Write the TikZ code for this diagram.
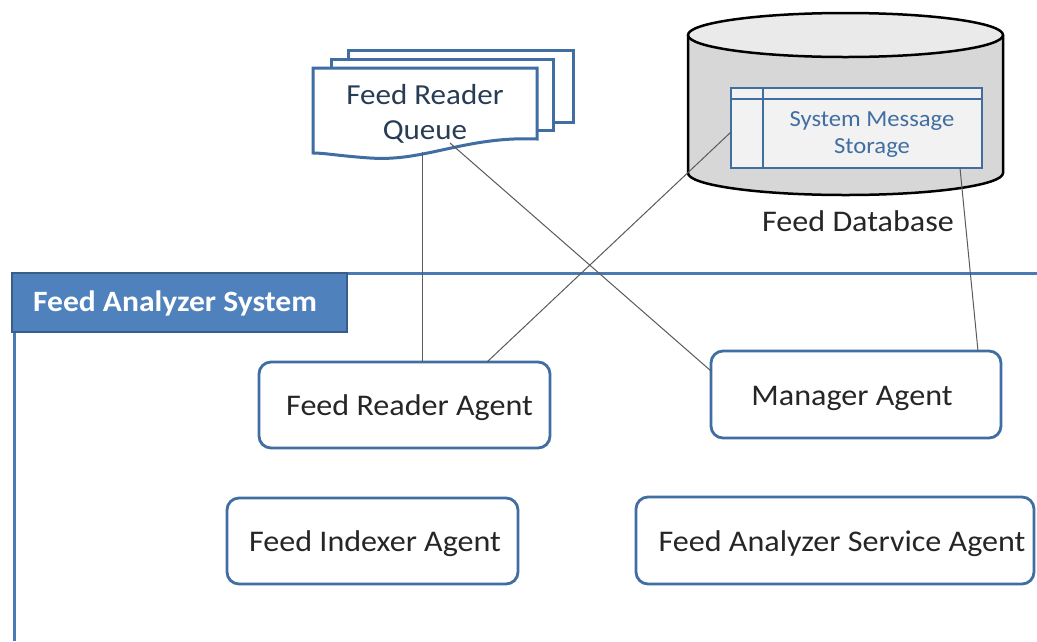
\documentclass[tikz,border=0pt]{standalone}
\usepackage{fontspec}
\setmainfont{Carlito}[FakeStretch=1.07]
\definecolor{boxblue}{RGB}{65,110,162}
\definecolor{tabblue}{RGB}{79,129,189}
\definecolor{tabedge}{RGB}{56,93,138}
\definecolor{framblue}{RGB}{74,122,181}
\definecolor{inkgray}{RGB}{38,38,38}
\definecolor{qtext}{RGB}{40,60,85}
\definecolor{cylbody}{RGB}{215,215,215}
\definecolor{cyltop}{RGB}{234,234,234}
\definecolor{tablefill}{RGB}{242,242,242}
\definecolor{linkgray}{RGB}{90,90,90}
\tikzset{
  agent/.style={draw=boxblue, line width=2.8pt, rounded corners=12pt, fill=white,
    text=inkgray, font=\fontsize{30}{34}\selectfont, inner sep=0pt,
    text height=27pt, text depth=6pt},
  page/.style={draw=boxblue, line width=3pt, fill=white},
  link/.style={draw=linkgray, line width=1pt},
  cyl/.style={draw=black, line width=2.5pt},
}
\begin{document}
\begin{tikzpicture}[x=1pt,y=-1pt]
\useasboundingbox (0,0) rectangle (1037,641);
\fill[white] (0,0) rectangle (1037,641);

% ---- queue (stacked document shape) ----
\draw[page] (348,50) rectangle (573,122);
\draw[page] (331,59) rectangle (553,130);
\draw[page] (313,68) -- (537,68) -- (537,139)
  .. controls (465,136) and (425,162) .. (370,158)
  .. controls (340,156) and (325,153) .. (313,153) -- cycle;
\node[text=qtext, font=\fontsize{29}{35}\selectfont, align=center] (queue) at (425,114)
  {Feed Reader\\Queue};
\coordinate (qA) at (422,152);
\coordinate (qB) at (450,143);

% ---- database cylinder ----
\draw[cyl, fill=cylbody] (688,35) -- (688,173) arc[start angle=180, end angle=0, x radius=157.5, y radius=22] -- (1003,35);
\draw[cyl, fill=cyltop] (845.5,35) ellipse[x radius=157.5, y radius=22];
\node[draw=boxblue, line width=2.5pt, fill=tablefill, minimum width=251pt, minimum height=80pt, inner sep=0pt]
  (sms) at (856.5,128) {};
\draw[draw=boxblue, line width=2.5pt] (731,99) -- (982,99);
\draw[draw=boxblue, line width=2.5pt] (763,88) -- (763,168);
\node[text=boxblue, font=\fontsize{23}{27}\selectfont, align=center] (smstext) at (872,135)
  {System Message\\Storage};
\node[text=inkgray, font=\fontsize{30}{34}\selectfont] (dbl) at (858,221) {Feed Database};
\coordinate (smsL) at (731,132);
\coordinate (smsB) at (960,168);

% ---- system frame ----
\draw[draw=framblue, line width=3pt] (14,641) -- (14,273) -- (1037,273);
\node[draw=tabedge, line width=2pt, fill=tabblue, minimum width=335pt, minimum height=59pt,
  inner sep=0pt, text=white, font=\bfseries\fontsize{29.5}{34}\selectfont,
  text height=24pt, text depth=6pt] (tab) at (179.5,302.5)
  {\hspace*{-9pt}Feed Analyzer System};

% ---- agents ----
\node[agent, minimum width=291pt, minimum height=86pt] (fra) at (404.5,405) {\hspace*{10pt}Feed Reader Agent};
\node[agent, minimum width=290pt, minimum height=87pt] (ma) at (856,394.5) {\hspace*{-8pt}Manager Agent};
\node[agent, minimum width=291pt, minimum height=86pt] (fia) at (372.5,541) {\hspace*{5pt}Feed Indexer Agent};
\node[agent, minimum width=398pt, minimum height=87pt] (fasa) at (835,540.5) {\hspace*{14pt}Feed Analyzer Service Agent};

\coordinate (fraTop1) at (422,362);
\coordinate (fraTop2) at (487,362);
\coordinate (maLeft) at (711,371);
\coordinate (maTop) at (978,351);

% ---- connectors ----
\draw[link] (qA) -- (fraTop1);
\draw[link] (qB) -- (maLeft);
\draw[link] (smsL) -- (fraTop2);
\draw[link] (smsB) -- (maTop);
\end{tikzpicture}
\end{document}
